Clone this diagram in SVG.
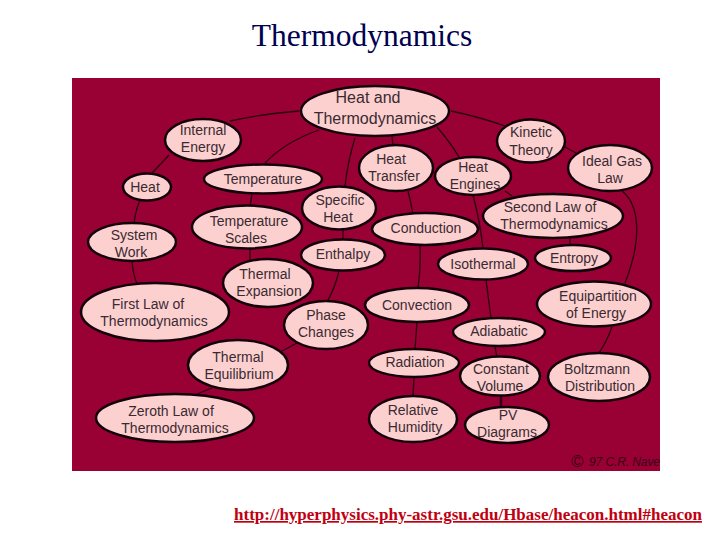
<svg xmlns="http://www.w3.org/2000/svg" width="720" height="540" viewBox="0 0 720 540">
<style>
.n ellipse{fill:#fdd0d0;stroke:#14000a;stroke-width:2.5}
.n text{font-family:"Liberation Sans",Arial,sans-serif;font-size:14px;fill:#3a2a30;text-anchor:middle}
#connectors path{fill:none;stroke:#2a0012;stroke-width:1.3}
</style>
<rect width="720" height="540" fill="#fff"/>
<text x="362" y="46" font-family="'Liberation Serif',serif" font-size="31.5" text-anchor="middle" fill="#000050">Thermodynamics</text>
<rect x="72" y="78" width="588" height="393" fill="#990033"/>
<g id="connectors">
<path d="M299 111Q262 114 230 121"/>
<path d="M319 130Q285 142 265 163"/>
<path d="M355 138Q348 160 345 186"/>
<path d="M169 155Q160 165 152 173"/>
<path d="M140 200Q135 212 134 224"/>
<path d="M132 261Q133 274 137 284"/>
<path d="M252 194L250 206"/>
<path d="M250 249L250 260"/>
<path d="M343 229L343 240"/>
<path d="M339 271Q335 288 327 302"/>
<path d="M297 343L282 351"/>
<path d="M212 388L197 394"/>
<path d="M392 136L393 146"/>
<path d="M437 127Q450 142 459 157"/>
<path d="M451 111Q480 117 505 126"/>
<path d="M565 147L576 153"/>
<path d="M622 191C640 205 642 240 625 283"/>
<path d="M408 191Q411 203 413 214"/>
<path d="M420 245Q421 268 418 288"/>
<path d="M417 322L415 349"/>
<path d="M414 377L413 396"/>
<path d="M473 195Q480 222 483 248"/>
<path d="M505 191L512 196"/>
<path d="M570 238L570 245"/>
<path d="M486 280L491 318"/>
<path d="M495 347L497 357"/>
<path d="M501 396L501 407" style="stroke-width:2.5"/>
<path d="M612 327Q607 341 599 353"/>
</g>
<g id="heat-and-thermodynamics" class="n"><ellipse cx="375" cy="111" rx="74" ry="25"/><text x="368" y="103" style="font-size:16px">Heat and</text><text x="375" y="124" style="font-size:16px">Thermodynamics</text></g>
<g id="internal-energy" class="n"><ellipse cx="203" cy="140" rx="38" ry="21"/><text x="203" y="135">Internal</text><text x="203" y="152">Energy</text></g>
<g id="heat" class="n"><ellipse cx="147" cy="187" rx="24" ry="13.5"/><text x="145" y="192">Heat</text></g>
<g id="temperature" class="n"><ellipse cx="263" cy="179" rx="59" ry="14.5"/><text x="263" y="184">Temperature</text></g>
<g id="specific-heat" class="n"><ellipse cx="339" cy="208" rx="37" ry="21.5"/><text x="340" y="205">Specific</text><text x="338" y="222">Heat</text></g>
<g id="system-work" class="n"><ellipse cx="132" cy="242" rx="44" ry="19"/><text x="134" y="240">System</text><text x="131" y="257">Work</text></g>
<g id="temperature-scales" class="n"><ellipse cx="247" cy="227" rx="55" ry="21.5"/><text x="249" y="226">Temperature</text><text x="246" y="243">Scales</text></g>
<g id="enthalpy" class="n"><ellipse cx="343" cy="255" rx="42" ry="15.5"/><text x="343" y="259">Enthalpy</text></g>
<g id="thermal-expansion" class="n"><ellipse cx="268" cy="283" rx="45" ry="24"/><text x="265" y="279">Thermal</text><text x="269" y="296">Expansion</text></g>
<g id="heat-transfer" class="n"><ellipse cx="396" cy="168" rx="37" ry="23"/><text x="391" y="164">Heat</text><text x="394" y="181">Transfer</text></g>
<g id="heat-engines" class="n"><ellipse cx="473" cy="176" rx="38" ry="19"/><text x="473" y="172">Heat</text><text x="475" y="189">Engines</text></g>
<g id="kinetic-theory" class="n"><ellipse cx="531" cy="141" rx="34" ry="21.5"/><text x="531" y="137">Kinetic</text><text x="531" y="155">Theory</text></g>
<g id="ideal-gas-law" class="n"><ellipse cx="610" cy="168" rx="42" ry="23"/><text x="612" y="166">Ideal Gas</text><text x="610" y="183">Law</text></g>
<g id="second-law" class="n"><ellipse cx="553" cy="216" rx="70" ry="22"/><text x="550" y="212">Second Law of</text><text x="554" y="229">Thermodynamics</text></g>
<g id="conduction" class="n"><ellipse cx="425" cy="229" rx="53" ry="16"/><text x="426" y="233">Conduction</text></g>
<g id="isothermal" class="n"><ellipse cx="483" cy="264" rx="45" ry="15.5"/><text x="483" y="269">Isothermal</text></g>
<g id="entropy" class="n"><ellipse cx="573" cy="258" rx="38" ry="13"/><text x="574" y="263">Entropy</text></g>
<g id="first-law" class="n"><ellipse cx="155" cy="312" rx="74" ry="29"/><text x="148" y="309">First Law of</text><text x="154" y="326">Thermodynamics</text></g>
<g id="phase-changes" class="n"><ellipse cx="326" cy="325" rx="42" ry="24"/><text x="326" y="320">Phase</text><text x="326" y="337">Changes</text></g>
<g id="thermal-equilibrium" class="n"><ellipse cx="238" cy="365" rx="50" ry="25"/><text x="238" y="362">Thermal</text><text x="239" y="379">Equilibrium</text></g>
<g id="zeroth-law" class="n"><ellipse cx="175" cy="418" rx="79" ry="24"/><text x="171" y="416">Zeroth Law of</text><text x="175" y="433">Thermodynamics</text></g>
<g id="convection" class="n"><ellipse cx="417" cy="305" rx="52" ry="17"/><text x="417" y="310">Convection</text></g>
<g id="equipartition" class="n"><ellipse cx="594" cy="304" rx="57" ry="22.5"/><text x="598" y="301">Equipartition</text><text x="596" y="318">of Energy</text></g>
<g id="adiabatic" class="n"><ellipse cx="499" cy="332" rx="46" ry="14"/><text x="499" y="336">Adiabatic</text></g>
<g id="radiation" class="n"><ellipse cx="414" cy="363" rx="45" ry="14"/><text x="415" y="367">Radiation</text></g>
<g id="constant-volume" class="n"><ellipse cx="500" cy="376" rx="40" ry="19.5"/><text x="501" y="374">Constant</text><text x="500" y="391">Volume</text></g>
<g id="boltzmann" class="n"><ellipse cx="599" cy="377" rx="51" ry="24"/><text x="597" y="374">Boltzmann</text><text x="600" y="391">Distribution</text></g>
<g id="relative-humidity" class="n"><ellipse cx="413" cy="419" rx="44" ry="23"/><text x="413" y="415">Relative</text><text x="415" y="432">Humidity</text></g>
<g id="pv-diagrams" class="n"><ellipse cx="507" cy="425" rx="42" ry="18"/><text x="508" y="420">PV</text><text x="507" y="437">Diagrams</text></g>
<text x="571" y="467" font-family="'Liberation Sans',sans-serif" font-size="17" fill="#3a0018">©</text>
<text x="589" y="466" font-family="'Liberation Sans',sans-serif" font-size="12" font-style="italic" fill="#3a0018" textLength="71">97 C.R. Nave</text>
<text x="468" y="520" font-family="'Liberation Serif',serif" font-size="17" font-weight="bold" text-anchor="middle" text-decoration="underline" fill="#c00010">http://hyperphysics.phy-astr.gsu.edu/Hbase/heacon.html#heacon</text>
</svg>
